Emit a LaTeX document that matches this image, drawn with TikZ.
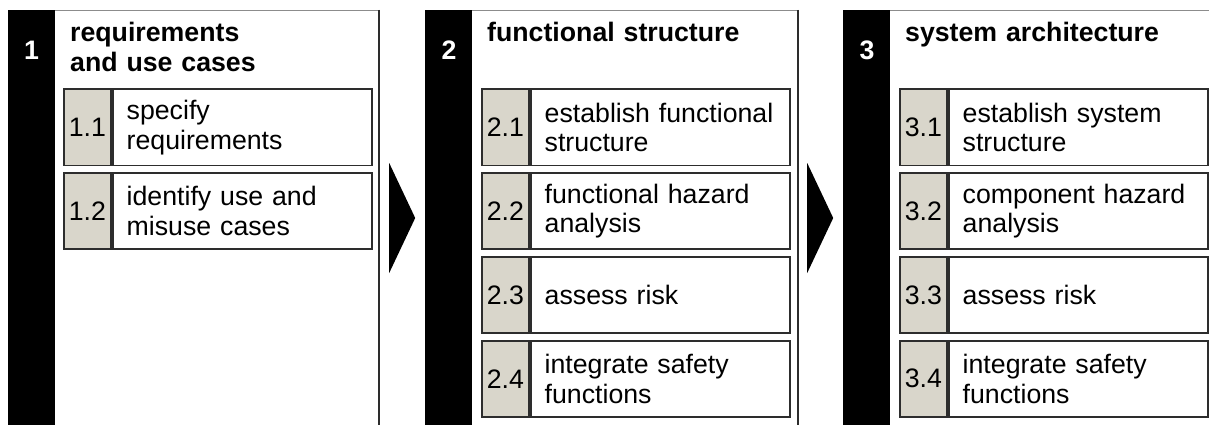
\documentclass[tikz,border=0pt]{standalone}
\usepackage{fontspec}
\setmainfont{Liberation Sans}
\usetikzlibrary{positioning,shapes.geometric}
\definecolor{cellcol}{RGB}{217,214,203}
\definecolor{linecol}{RGB}{45,45,45}
\definecolor{framecol}{RGB}{140,140,140}
\newcommand{\bodyfont}{\fontsize{26.7}{29.5}\selectfont}

\begin{document}
\begin{tikzpicture}[
  x=1pt, y=-1pt,
  frame/.style={rectangle, draw=framecol, line width=1pt, fill=white,
                minimum width=#1, minimum height=450, inner sep=0pt, anchor=north west},
  frame/.default={370},
  bar/.style={rectangle, fill=black, minimum width=47, minimum height=450,
              inner sep=0pt, anchor=north west},
  phasenum/.style={text=white, font=\bodyfont\bfseries, inner sep=0pt},
  head/.style={font=\bodyfont\bfseries, text width=300, align=left,
               inner sep=0pt, anchor=base west},
  numcell/.style={rectangle, draw=linecol, line width=1.8pt, fill=cellcol,
                  minimum width=47, minimum height=76, inner sep=0pt,
                  font=\bodyfont, anchor=north west},
  task/.style={rectangle, draw=linecol, line width=1.8pt, fill=white,
               minimum width=259, minimum height=76, text width=231,
               inner xsep=14, inner ysep=0pt, align=left, font=\bodyfont},
  chev/.style={isosceles triangle, isosceles triangle stretches, fill=black,
               minimum width=110, minimum height=26, inner sep=0pt,
               shape border rotate=0, anchor=lower side},
]
  \clip (0,0) rectangle (1209,425);
  \fill[white] (0,0) rectangle (1209,425);

  % Column 1: requirements
  \node[frame] (f1) at (8,10) {};
  \draw[linecol, line width=2pt] (f1.north east) -- (f1.south east);
  \node[bar] (b1) at (8,10) {};
  \node[phasenum] (p1) at (31.5,50) {1};
  \node[head] (h1) at (70,42) {requirements\\and use cases};

  \node[numcell] (c11) at (63,88.5) {1.1};
  \node[task, right=0pt of c11] (t11) {specify\\requirements};
  \node[numcell] (c12) at (63,172.3) {1.2};
  \node[task, right=0pt of c12] (t12) {identify use and\\misuse cases};

  % Column 2: functional structure
  \node[frame=372] (f2) at (425,10) {};
  \draw[linecol, line width=2pt] (f2.north east) -- (f2.south east);
  \node[bar] (b2) at (425,10) {};
  \node[phasenum] (p2) at (449,50) {2};
  \node[head] (h2) at (487,42) {functional structure};

  \node[numcell] (c21) at (481,88.5) {2.1};
  \node[task, right=0pt of c21] (t21) {establish functional\\structure};
  \node[numcell] (c22) at (481,172.3) {2.2};
  \node[task, right=0pt of c22] (t22) {functional hazard\\analysis};
  \node[numcell] (c23) at (481,256.1) {2.3};
  \node[task, right=0pt of c23] (t23) {assess risk};
  \node[numcell] (c24) at (481,339.9) {2.4};
  \node[task, right=0pt of c24] (t24) {integrate safety\\functions};

  % Column 3: system architecture
  \node[frame=380] (f3) at (843,10) {};
  \node[bar] (b3) at (843,10) {};
  \node[phasenum] (p3) at (867,50) {3};
  \node[head] (h3) at (905,42) {system architecture};

  \node[numcell] (c31) at (899,88.5) {3.1};
  \node[task, right=0pt of c31] (t31) {establish system\\structure};
  \node[numcell] (c32) at (899,172.3) {3.2};
  \node[task, right=0pt of c32] (t32) {component hazard\\analysis};
  \node[numcell] (c33) at (899,256.1) {3.3};
  \node[task, right=0pt of c33] (t33) {assess risk};
  \node[numcell] (c34) at (899,339.9) {3.4};
  \node[task, right=0pt of c34] (t34) {integrate safety\\functions};

  % Chevrons between the phases
  \node[chev] (a12) at (389,218) {};
  \node[chev] (a23) at (807,218) {};

\end{tikzpicture}
\end{document}
